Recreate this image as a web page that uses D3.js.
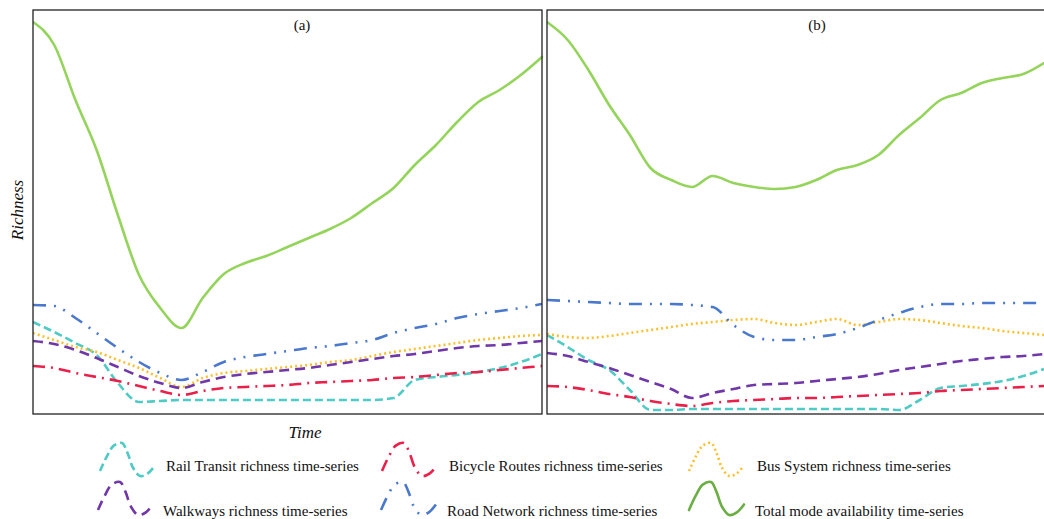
<!DOCTYPE html>
<html>
<head>
<meta charset="utf-8">
<script src="https://cdn.jsdelivr.net/npm/d3@7"></script>
<style>
  body { margin: 0; background: #fff; }
  text { font-family: "Liberation Serif", "DejaVu Serif", serif; fill: #111; }
</style>
</head>
<body>
<div id="chart"></div>
<script>
// time steps (arbitrary units), shared by both panels
const timeSteps = d3.range(0, 25);

// panel (a) richness values
const railA    = [92, 82, 71, 59, 31, 12, 13, 14, 14, 14, 14, 14, 14, 14, 14, 14, 14, 16, 34, 37, 39, 42, 46, 52, 60];
const bicycleA = [48, 46, 41, 37, 33, 28, 23, 19, 23, 26, 27, 28, 29, 31, 32, 33, 34, 36, 37, 39, 41, 42, 44, 46, 48];
const busA     = [81, 74, 67, 62, 54, 46, 36, 27, 36, 41, 43, 45, 47, 49, 52, 54, 58, 62, 65, 68, 71, 74, 76, 78, 79];
const walkA    = [73, 70, 64, 56, 47, 38, 31, 26, 32, 37, 40, 42, 44, 46, 49, 52, 55, 58, 60, 63, 66, 68, 69, 71, 73];
const roadA    = [109, 108, 96, 81, 66, 52, 41, 34, 42, 52, 57, 60, 63, 66, 68, 71, 74, 81, 86, 90, 96, 100, 103, 106, 110];
const totalA   = [392, 369, 314, 264, 199, 139, 106, 86, 116, 140, 151, 158, 167, 176, 185, 196, 211, 226, 249, 269, 292, 312, 324, 339, 357];

// panel (b) richness values
const railB    = [79, 67, 54, 44, 24, 4, 4, 5, 5, 5, 5, 5, 5, 5, 5, 5, 5, 4, 14, 26, 28, 30, 33, 38, 45];
const bicycleB = [28, 27, 24, 20, 17, 13, 10, 8, 11, 13, 14, 15, 16, 16, 17, 18, 19, 20, 21, 23, 24, 25, 26, 27, 28];
const busB     = [80, 77, 76, 78, 81, 84, 87, 90, 92, 94, 95, 91, 89, 92, 95, 89, 92, 95, 94, 91, 88, 86, 83, 81, 79];
const walkB    = [61, 58, 52, 46, 39, 32, 25, 16, 21, 25, 29, 30, 31, 33, 35, 37, 40, 44, 47, 50, 53, 55, 57, 58, 60];
const roadB    = [114, 113, 112, 111, 110, 110, 110, 109, 107, 89, 77, 74, 74, 77, 80, 86, 94, 101, 107, 110, 110, 111, 111, 111, 111];
const totalB   = [392, 374, 344, 309, 279, 246, 234, 227, 238, 231, 227, 225, 227, 234, 244, 249, 259, 279, 296, 314, 321, 331, 336, 340, 351];

const seriesNames = [
  "Rail Transit richness time-series",
  "Bicycle Routes richness time-series",
  "Bus System richness time-series",
  "Walkways richness time-series",
  "Road Network richness time-series",
  "Total mode availability time-series"
];
const panelTitles = ["(a)", "(b)"];

const styles = [
  { color: "#4fcac5", dash: "8,4",  cap: "butt" },
  { color: "#e8204a", dash: "12,6,2,6", cap: "butt" },
  { color: "#fbc02d", dash: "2,3", cap: "butt" },
  { color: "#7037a8", dash: "10,6", cap: "butt" },
  { color: "#4a78cc", dash: "13,8,2,8,2,8", cap: "butt" },
  { color: "#94d45a", dash: null, cap: "round" }
];

const width = 1044, height = 519;
const svg = d3.select("#chart").append("svg")
  .attr("width", width).attr("height", height);

const y = d3.scaleLinear().domain([0, 404]).range([414, 10]);

const panels = [
  { title: panelTitles[0], x0: 33, x1: 542, data: [railA, bicycleA, busA, walkA, roadA, totalA] },
  { title: panelTitles[1], x0: 547, x1: 1044, data: [railB, bicycleB, busB, walkB, roadB, totalB] }
];

panels.forEach((p, pi) => {
  const x = d3.scaleLinear().domain([0, 24]).range([p.x0, p.x1]);
  const clipId = "clip" + pi;
  svg.append("clipPath").attr("id", clipId)
    .append("rect").attr("x", p.x0).attr("y", 10).attr("width", p.x1 - p.x0 + 4).attr("height", 404);

  const line = d3.line()
    .x((d, i) => x(timeSteps[i]))
    .y(d => y(d))
    .curve(d3.curveMonotoneX);

  const g = svg.append("g").attr("clip-path", `url(#${clipId})`);
  p.data.forEach((vals, si) => {
    const st = styles[si];
    g.append("path")
      .datum(vals)
      .attr("d", line)
      .attr("fill", "none")
      .attr("stroke", st.color)
      .attr("stroke-width", 2.6)
      .attr("stroke-linecap", st.cap)
      .attr("stroke-dasharray", st.dash);
  });

  // frame
  svg.append("rect")
    .attr("x", p.x0).attr("y", 10)
    .attr("width", (pi === 1 ? 520 : p.x1 - p.x0)).attr("height", 404)
    .attr("fill", "none").attr("stroke", "#222").attr("stroke-width", 1.3);

  svg.append("text")
    .attr("x", pi === 0 ? 302 : 817).attr("y", 30)
    .attr("text-anchor", "middle").attr("font-size", 15)
    .text(p.title);
});

// axis titles
svg.append("text")
  .attr("transform", "translate(23,210) rotate(-90)")
  .attr("text-anchor", "middle")
  .attr("font-size", 17).attr("font-style", "italic")
  .text("Richness");
svg.append("text")
  .attr("x", 305).attr("y", 438)
  .attr("text-anchor", "middle")
  .attr("font-size", 17).attr("font-style", "italic")
  .text("Time");

// legend glyph: a small smooth wave
const wave = [[0, 0.85], [0.12, 0.42], [0.25, 0.08], [0.4, 0.0], [0.5, 0.3],
              [0.6, 0.75], [0.73, 1.0], [0.87, 0.92], [1.0, 0.68]];
const legendPos = [
  { ix: 100, iy: 443, tx: 166, ty: 471 },
  { ix: 382, iy: 443, tx: 449, ty: 471 },
  { ix: 689, iy: 443, tx: 757, ty: 471 },
  { ix: 98,  iy: 482, tx: 163, ty: 516 },
  { ix: 381, iy: 482, tx: 447, ty: 516 },
  { ix: 689, iy: 482, tx: 755, ty: 516 }
];
const waveLine = d3.line().curve(d3.curveCatmullRom.alpha(0.5));

seriesNames.forEach((name, si) => {
  const pos = legendPos[si];
  const st = styles[si];
  const pts = wave.map(([a, b]) => [pos.ix + a * 55, pos.iy + b * 33]);
  svg.append("path")
    .attr("d", waveLine(pts))
    .attr("fill", "none")
    .attr("stroke", si === 5 ? "#6aae44" : st.color)
    .attr("stroke-width", 2.6)
    .attr("stroke-linecap", st.cap)
    .attr("stroke-dasharray", st.dash);
  svg.append("text")
    .attr("x", pos.tx).attr("y", pos.ty)
    .attr("font-size", 15)
    .text(name);
});
</script>
</body>
</html>
